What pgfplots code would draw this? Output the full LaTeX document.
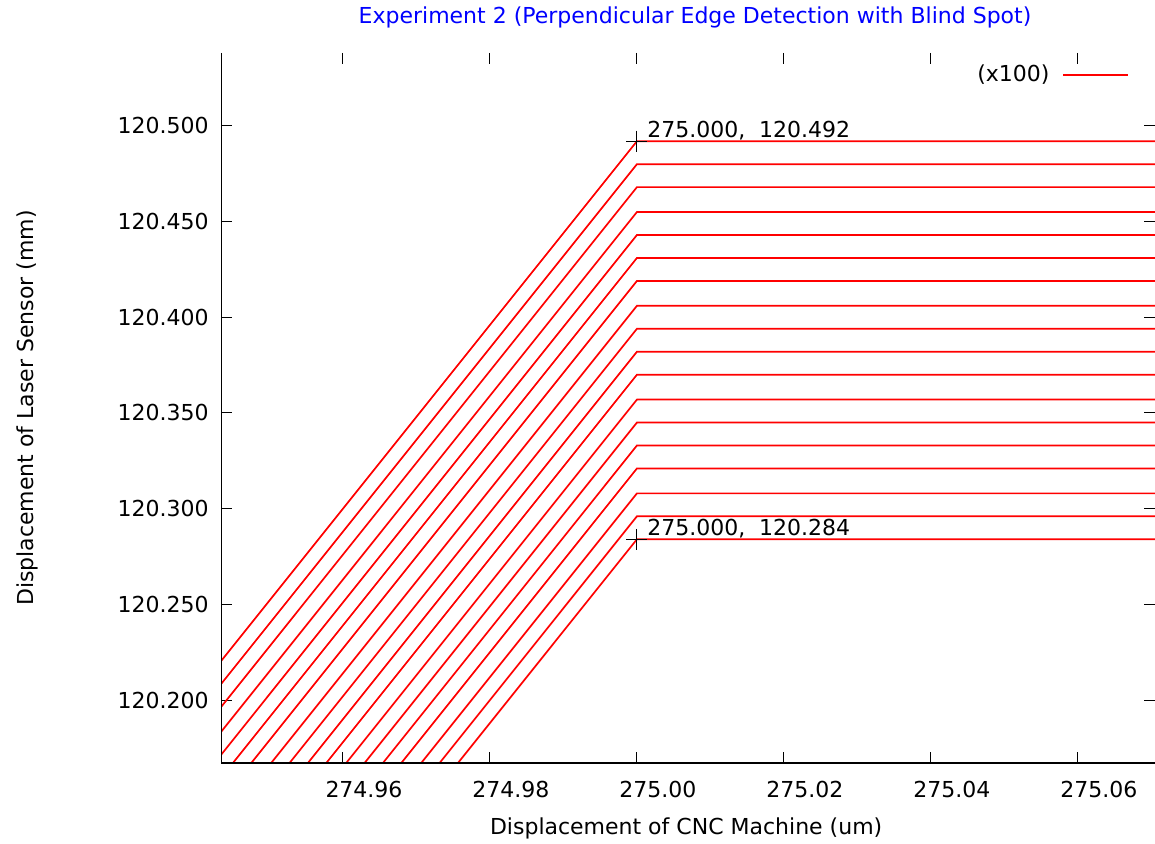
\documentclass[border=0pt]{standalone}
\usepackage{pgfplots}
\pgfplotsset{compat=1.18}
\usepackage{pgfplotstable}
\usepackage{fontspec}
\setmainfont{DejaVu Sans}

\pgfplotstableread{
x y
274.900 119.804
275.000 120.284
275.075 120.284
nan nan
274.900 119.816
275.000 120.296
275.075 120.296
nan nan
274.900 119.828
275.000 120.308
275.075 120.308
nan nan
274.900 119.841
275.000 120.321
275.075 120.321
nan nan
274.900 119.853
275.000 120.333
275.075 120.333
nan nan
274.900 119.865
275.000 120.345
275.075 120.345
nan nan
274.900 119.877
275.000 120.357
275.075 120.357
nan nan
274.900 119.890
275.000 120.370
275.075 120.370
nan nan
274.900 119.902
275.000 120.382
275.075 120.382
nan nan
274.900 119.914
275.000 120.394
275.075 120.394
nan nan
274.900 119.926
275.000 120.406
275.075 120.406
nan nan
274.900 119.939
275.000 120.419
275.075 120.419
nan nan
274.900 119.951
275.000 120.431
275.075 120.431
nan nan
274.900 119.963
275.000 120.443
275.075 120.443
nan nan
274.900 119.975
275.000 120.455
275.075 120.455
nan nan
274.900 119.988
275.000 120.468
275.075 120.468
nan nan
274.900 120.000
275.000 120.480
275.075 120.480
nan nan
274.900 120.012
275.000 120.492
275.075 120.492
}\scans

\begin{document}
\begin{tikzpicture}[font=\fontsize{11}{13}\selectfont]
\begin{axis}[
  scale only axis,
  width=467pt, height=355pt,
  xmin=274.9434, xmax=275.0705,
  ymin=120.1671, ymax=120.5381,
  axis line style={draw=none},
  xtick={274.96,274.98,275.00,275.02,275.04,275.06},
  xticklabels={274.96,274.98,275.00,275.02,275.04,275.06},
  ytick={120.2,120.25,120.3,120.35,120.4,120.45,120.5},
  yticklabels={120.200,120.250,120.300,120.350,120.400,120.450,120.500},
  tick align=inside,
  major tick length=5.5pt,
  tick style={black, line width=0.5pt},
  xticklabel style={anchor=north, inner sep=0pt, yshift=-9pt, xshift=10.5pt},
  yticklabel style={anchor=east, inner sep=0pt, xshift=-6pt},
  title={Experiment 2 (Perpendicular Edge Detection with Blind Spot)},
  title style={text=blue, at={(axis description cs:0.5075,1)}, anchor=base, inner sep=0pt, yshift=8.5pt},
  xlabel={Displacement of CNC Machine (um)},
  xlabel style={at={(axis description cs:0.498,0)}, anchor=base, inner sep=0pt, yshift=-35.5pt},
  ylabel={Displacement of Laser Sensor (mm)},
  ylabel style={at={(axis description cs:0,0.5)}, anchor=center, inner sep=0pt, yshift=96.75pt},
  unbounded coords=jump,
  clip=true,
  legend plot pos=right,
  legend image code/.code={\draw[#1] (0pt,0pt) -- (32.5pt,0pt);},
  legend style={draw=none, fill=none, at={(axis description cs:0.9728,0.969)}, anchor=east, inner sep=0pt, column sep=6.5pt, nodes={inner sep=0pt}},
]
\addplot[red, line width=0.85pt] table[x=x, y=y] {\scans};
\addlegendentry{(x100)}
\addplot[only marks, mark=+, mark size=5.25pt, black, mark options={line width=0.5pt}, forget plot] coordinates {(275.000,120.492) (275.000,120.284)};
\node[anchor=base west, inner sep=0pt] at (axis cs:275.000,120.492) [xshift=5pt, yshift=2pt] {275.000,\ \ 120.492};
\node[anchor=base west, inner sep=0pt] at (axis cs:275.000,120.284) [xshift=5pt, yshift=2pt] {275.000,\ \ 120.284};
\draw[black, line width=0.8pt] (rel axis cs:0,1) -- (rel axis cs:0,0) -- (rel axis cs:1,0);
\end{axis}
\pgfresetboundingbox
\path (-110.5pt,-40pt) rectangle (467pt,381.5pt);
\end{tikzpicture}
\end{document}
